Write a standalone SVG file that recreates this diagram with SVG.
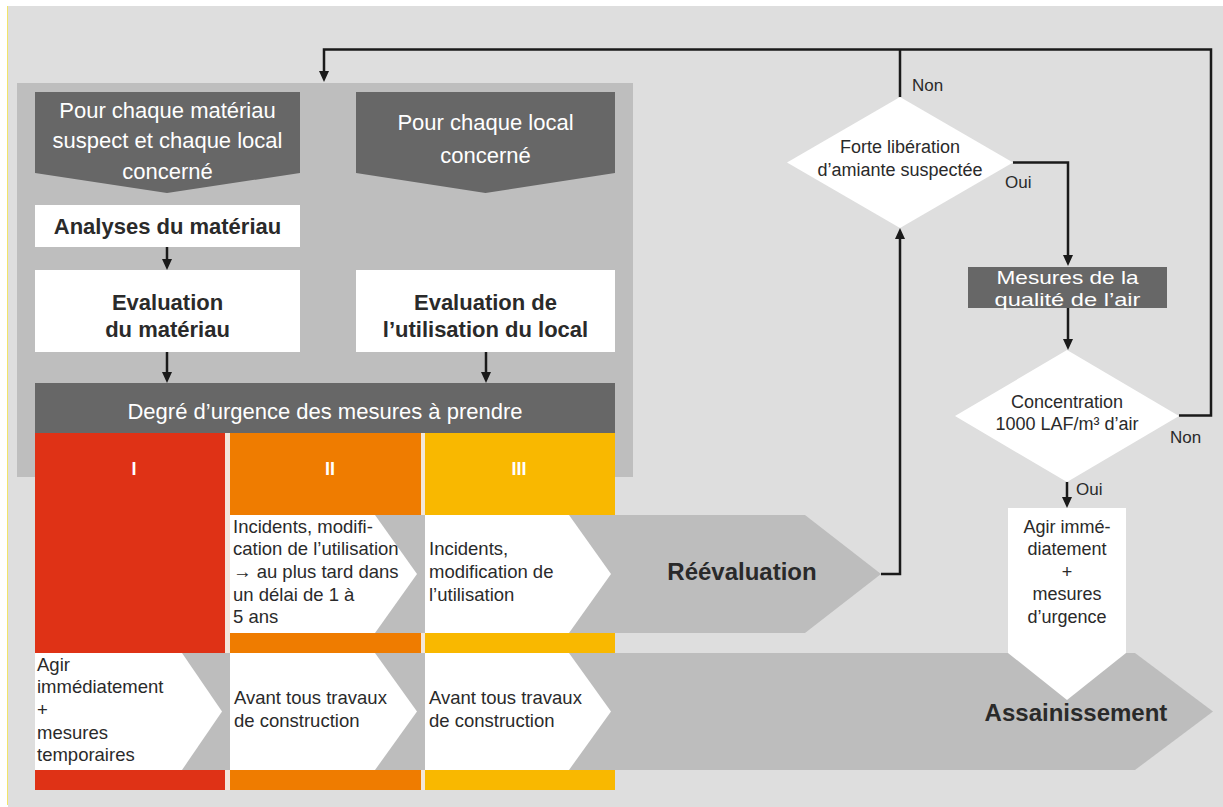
<svg xmlns="http://www.w3.org/2000/svg" width="1223" height="807" viewBox="0 0 1223 807">
<defs>
<style>
.f{font-family:"Liberation Sans",Arial,Helvetica,sans-serif}
.dk{fill:#2a2a2a}
.wt{fill:#ffffff}
.b{font-weight:bold}
.hd{font-size:22px}
.bd{font-size:18.5px}
.dm{font-size:18px}
.lb{font-size:17px}
.big{font-size:24px;font-weight:bold}
.mid{text-anchor:middle}
.conn{fill:none;stroke:#1a1a1a;stroke-width:2.5}
.darkbox{fill:#676767}
.gray{fill:#bdbdbd}
.white{fill:#ffffff}
.red{fill:#df3216}
.orange{fill:#ef7c00}
.yellow{fill:#f9b800}
</style>
<marker id="ah" markerUnits="userSpaceOnUse" markerWidth="11" markerHeight="10" refX="7" refY="5" orient="auto">
<path d="M0,0 L11,5 L0,10 z" fill="#1a1a1a"/>
</marker>
</defs>

<g id="background">
<rect x="8" y="6" width="1215" height="801" fill="#dedede"/>
<line x1="7.5" y1="6" x2="7.5" y2="805" stroke="#f2e46a" stroke-width="1"/>
<rect x="17" y="83" width="616" height="394" fill="#bebebe"/>
<rect x="35" y="433" width="580" height="357" fill="#f3e6da"/>
</g>

<g id="node-pour-materiau">
<polygon class="darkbox" points="35,92 300,92 300,173 167,193 35,173"/>
<text class="f hd wt mid" x="167.5" y="118">Pour chaque matériau</text>
<text class="f hd wt mid" x="167.5" y="148">suspect et chaque local</text>
<text class="f hd wt mid" x="167.5" y="179">concerné</text>
</g>

<g id="node-pour-local">
<polygon class="darkbox" points="356,92 615,92 615,173 485.5,193 356,173"/>
<text class="f hd wt mid" x="485.5" y="130">Pour chaque local</text>
<text class="f hd wt mid" x="485.5" y="163">concerné</text>
</g>

<g id="node-analyses">
<rect class="white" x="35" y="205" width="265" height="42"/>
<text class="f hd b dk mid" x="167.5" y="234">Analyses du matériau</text>
</g>

<g id="node-eval-materiau">
<rect class="white" x="35" y="270" width="265" height="82"/>
<text class="f hd b dk mid" x="167.5" y="310">Evaluation</text>
<text class="f hd b dk mid" x="167.5" y="337">du matériau</text>
</g>

<g id="node-eval-local">
<rect class="white" x="356" y="270" width="259" height="82"/>
<text class="f hd b dk mid" x="485.5" y="310">Evaluation de</text>
<text class="f hd b dk mid" x="485.5" y="337">l’utilisation du local</text>
</g>

<g id="node-degre">
<rect class="darkbox" x="35" y="383" width="580" height="50"/>
<text class="f hd wt mid" x="325" y="419">Degré d’urgence des mesures à prendre</text>
</g>

<g id="node-reevaluation">
<polygon class="gray" points="230,515 805,515 881,574 805,633 230,633"/>
<text class="f big dk mid" x="742" y="580">Réévaluation</text>
</g>

<g id="node-assainissement">
<polygon class="gray" points="35,653 1135,653 1213,711.5 1135,770 35,770"/>
<text class="f big dk mid" x="1076" y="721">Assainissement</text>
</g>

<g id="node-col-I">
<rect class="red" x="35" y="433" width="190" height="220"/>
<rect class="red" x="35" y="770" width="190" height="20"/>
<text class="f b wt mid" font-size="18" x="134" y="475">I</text>
</g>

<g id="node-col-II">
<rect class="orange" x="230" y="433" width="191" height="82"/>
<rect class="orange" x="230" y="633" width="191" height="20"/>
<rect class="orange" x="230" y="770" width="191" height="20"/>
<text class="f b wt mid" font-size="18" x="330" y="475">II</text>
</g>

<g id="node-col-III">
<rect class="yellow" x="425" y="433" width="190" height="82"/>
<rect class="yellow" x="425" y="633" width="190" height="20"/>
<rect class="yellow" x="425" y="770" width="190" height="20"/>
<text class="f b wt mid" font-size="18" x="519" y="475">III</text>
</g>

<g id="node-II-incidents">
<polygon class="white" points="230,515 375,515 417,574 375,633 230,633"/>
<text class="f bd dk" x="233" y="533">Incidents, modifi-</text>
<text class="f bd dk" x="233" y="555">cation de l’utilisation</text>
<text class="f bd dk" x="233" y="578">→ au plus tard dans</text>
<text class="f bd dk" x="233" y="601">un délai de 1 à</text>
<text class="f bd dk" x="233" y="623">5 ans</text>
</g>

<g id="node-III-incidents">
<polygon class="white" points="425,515 569,515 611,574 569,633 425,633"/>
<text class="f bd dk" x="429" y="555">Incidents,</text>
<text class="f bd dk" x="429" y="578">modification de</text>
<text class="f bd dk" x="429" y="601">l’utilisation</text>
</g>

<g id="node-I-agir">
<polygon class="white" points="35,653 182,653 222,711.5 182,770 35,770"/>
<text class="f bd dk" x="37" y="671">Agir</text>
<text class="f bd dk" x="37" y="693">immédiatement</text>
<text class="f bd dk" x="37" y="716">+</text>
<text class="f bd dk" x="37" y="739">mesures</text>
<text class="f bd dk" x="37" y="761">temporaires</text>
</g>

<g id="node-II-avant">
<polygon class="white" points="230,653 375,653 417,711.5 375,770 230,770"/>
<text class="f bd dk" x="234" y="704">Avant tous travaux</text>
<text class="f bd dk" x="234" y="727">de construction</text>
</g>

<g id="node-III-avant">
<polygon class="white" points="425,653 569,653 611,711.5 569,770 425,770"/>
<text class="f bd dk" x="429" y="704">Avant tous travaux</text>
<text class="f bd dk" x="429" y="727">de construction</text>
</g>

<g id="node-forte-liberation">
<polygon class="white" points="900,97 1013,162.5 900,228 787,162.5"/>
<text class="f dm dk mid" x="900" y="153">Forte libération</text>
<text class="f dm dk mid" x="900" y="176">d’amiante suspectée</text>
</g>

<g id="node-mesures-air">
<rect class="darkbox" x="968" y="267" width="199" height="41"/>
<text class="f wt mid" font-size="19" x="1067.5" y="284" textLength="142" lengthAdjust="spacingAndGlyphs">Mesures de la</text>
<text class="f wt mid" font-size="19" x="1067.5" y="305.5" textLength="146" lengthAdjust="spacingAndGlyphs">qualité de l’air</text>
</g>

<g id="node-concentration">
<polygon class="white" points="1067,350 1179,416 1067,482 955,416"/>
<text class="f dm dk mid" x="1067" y="408">Concentration</text>
<text class="f dm dk mid" x="1067" y="430">1000 LAF/m³ d’air</text>
</g>

<g id="node-agir-urgence">
<polygon class="white" points="1008,508 1126,508 1126,653 1067,700 1008,653"/>
<text class="f dm dk mid" x="1067" y="533">Agir immé-</text>
<text class="f dm dk mid" x="1067" y="555">diatement</text>
<text class="f dm dk mid" x="1067" y="578">+</text>
<text class="f dm dk mid" x="1067" y="600">mesures</text>
<text class="f dm dk mid" x="1067" y="623">d’urgence</text>
</g>

<g id="connectors">
<path class="conn" d="M1179,415.5 H1211 V49.5 H324 V78" marker-end="url(#ah)"/>
<path class="conn" d="M900,49.5 V97"/>
<path class="conn" d="M1013,162.5 H1068 V262" marker-end="url(#ah)"/>
<path class="conn" d="M1068,308 V346" marker-end="url(#ah)"/>
<path class="conn" d="M1067,482 V504" marker-end="url(#ah)"/>
<path class="conn" d="M881,574 H900 V232" marker-end="url(#ah)"/>
<path class="conn" d="M167,247 V266" marker-end="url(#ah)"/>
<path class="conn" d="M167,352 V379" marker-end="url(#ah)"/>
<path class="conn" d="M486,352 V379" marker-end="url(#ah)"/>
<text class="f lb dk" x="912" y="91">Non</text>
<text class="f lb dk" x="1005" y="188">Oui</text>
<text class="f lb dk" x="1170" y="443">Non</text>
<text class="f lb dk" x="1076" y="495">Oui</text>
</g>
</svg>
